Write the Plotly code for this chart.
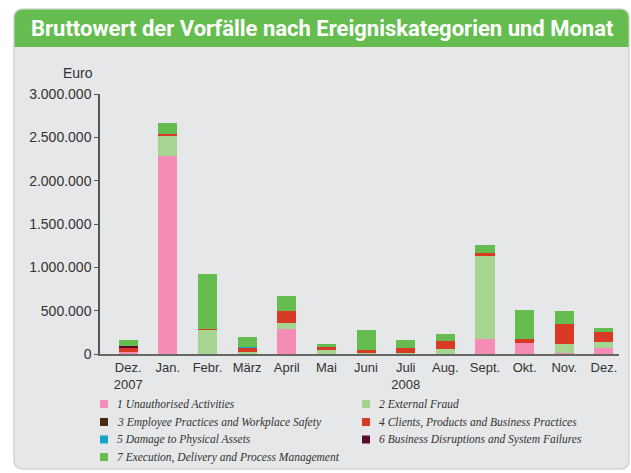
import plotly.graph_objects as go

# Monate (x-Achse)
months = ["Dez.<br>2007", "Jan.", "Febr.", "März", "April", "Mai", "Juni",
          "Juli<br>2008", "Aug.", "Sept.", "Okt.", "Nov.", "Dez."]

# Bruttowert je Ereigniskategorie in Euro (aus dem Bild geschätzt)
cat_names = [
    "1 Unauthorised Activities",
    "2 External Fraud",
    "3 Employee Practices and Workplace Safety",
    "4 Clients, Products and Business Practices",
    "5 Damage to Physical Assets",
    "6 Business Disruptions and System Failures",
    "7 Execution, Delivery and Process Management",
]
cat1 = [18000, 2288000, 0, 0, 292000, 0, 0, 0, 0, 173000, 131000, 12000, 73000]
cat2 = [0, 231000, 285000, 27000, 62000, 46000, 8000, 10000, 58000, 958000, 0, 100000, 69000]
cat3 = [0, 0, 0, 0, 0, 0, 0, 0, 0, 0, 0, 0, 0]
cat4 = [60000, 23000, 8000, 48000, 138000, 35000, 33000, 65000, 92000, 35000, 42000, 231000, 112000]
cat5 = [0, 0, 0, 6000, 0, 0, 0, 0, 0, 0, 0, 0, 0]
cat6 = [10000, 0, 0, 0, 0, 0, 0, 0, 0, 0, 0, 0, 0]
cat7 = [78000, 127000, 635000, 115000, 181000, 35000, 231000, 92000, 81000, 92000, 335000, 150000, 46000]

y_ticks = [0, 500000, 1000000, 1500000, 2000000, 2500000, 3000000]

colors = ["#f48cb6", "#a6d592", "#4e2a12", "#d93a26", "#12a3c9", "#5d0b2e", "#65bd50"]
series = [cat1, cat2, cat3, cat4, cat5, cat6, cat7]

BG = "#e6e7e8"
GREEN = "#65bd50"

fig = go.Figure()
for name, vals, col in zip(cat_names, series, colors):
    fig.add_trace(go.Bar(
        x=months, y=vals, name=name,
        marker=dict(color=col, line=dict(width=0)),
        hoverinfo="skip", showlegend=False,
    ))

# plot area: x 100..619, y 94..354 (px)
L, R, T, B = 100, 12, 94, 119
W, H = 631 - L - R, 473 - T - B


def px(x):
    return (x - L) / W


def py(y):
    return (473 - B - y) / H


def rounded_path(x0, y0, x1, y1, r, top_only=False):
    rx, ry = r / W, r / H
    X0, X1 = px(x0), px(x1)
    Y0, Y1 = py(y0), py(y1)  # Y0 top, Y1 bottom
    p = f"M {X0},{Y1 + (0 if top_only else ry)} L {X0},{Y0 - ry} Q {X0},{Y0} {X0 + rx},{Y0} "
    p += f"L {X1 - rx},{Y0} Q {X1},{Y0} {X1},{Y0 - ry} "
    if top_only:
        p += f"L {X1},{Y1} Z"
    else:
        p += f"L {X1},{Y1 + ry} Q {X1},{Y1} {X1 - rx},{Y1} L {X0 + rx},{Y1} Q {X0},{Y1} {X0},{Y1 + ry} Z"
    return p


shapes = [
    dict(type="path", xref="paper", yref="paper", layer="below",
         path=rounded_path(14, 9, 629, 469, 9),
         fillcolor=BG, line=dict(color="#d2d3d5", width=1.5)),
    dict(type="path", xref="paper", yref="paper", layer="below",
         path=rounded_path(14.5, 9.5, 628.5, 47, 9, top_only=True),
         fillcolor=GREEN, line=dict(width=0)),
]

annotations = [
    dict(text="<b>Bruttowert der Vorfälle nach Ereigniskategorien und Monat</b>",
         xref="paper", yref="paper", x=px(29), y=py(28), xanchor="left", yanchor="middle",
         showarrow=False,
         font=dict(family="Liberation Sans Narrow, Roboto, Arial", size=22, color="white")),
    dict(text="Euro", xref="paper", yref="paper", x=px(95), y=py(73),
         xanchor="right", yanchor="middle", showarrow=False,
         font=dict(family="Liberation Sans, Arial", size=14, color="#333333")),
]

# Legende: zwei Spalten, Zeilen von oben nach unten
col_x = [100, 362]
row_y = [404, 422, 439.5, 457]
for i, (name, col) in enumerate(zip(cat_names, colors)):
    cx, cy = col_x[i % 2], row_y[i // 2]
    shapes.append(dict(type="rect", xref="paper", yref="paper",
                       x0=px(cx), x1=px(cx + 8), y0=py(cy - 4), y1=py(cy + 4),
                       fillcolor=col, line=dict(width=0)))
    annotations.append(dict(text=name, xref="paper", yref="paper",
                            x=px(cx + 15), y=py(cy), xanchor="left", yanchor="middle",
                            showarrow=False,
                            font=dict(family="Liberation Serif, DejaVu Serif", size=11.5,
                                      color="#333333", style="italic")))

fig.update_layout(
    width=631, height=473,
    margin=dict(l=L, r=R, t=T, b=B),
    barmode="stack",
    bargap=0.52,
    paper_bgcolor="white",
    plot_bgcolor="rgba(0,0,0,0)",
    separators=",.",
    shapes=shapes,
    annotations=annotations,
    showlegend=False,
    font=dict(family="Liberation Sans, Arial", size=14, color="#333333"),
    xaxis=dict(
        range=[-0.71, 12.38], showline=True, linecolor="#666666", linewidth=2,
        ticks="", tickfont=dict(size=13, color="#333333"), fixedrange=True,
    ),
    yaxis=dict(
        range=[0, 3000000], tickvals=y_ticks, tickformat=",d",
        showline=True, linecolor="#555555", linewidth=1.5,
        ticks="outside", ticklen=4, tickcolor="#555555",
        showgrid=False, zeroline=False, tickfont=dict(size=14, color="#333333"),
        fixedrange=True,
    ),
)

fig.write_html("out.html", config={"displayModeBar": False},
               post_script="document.body.style.margin='0';")
